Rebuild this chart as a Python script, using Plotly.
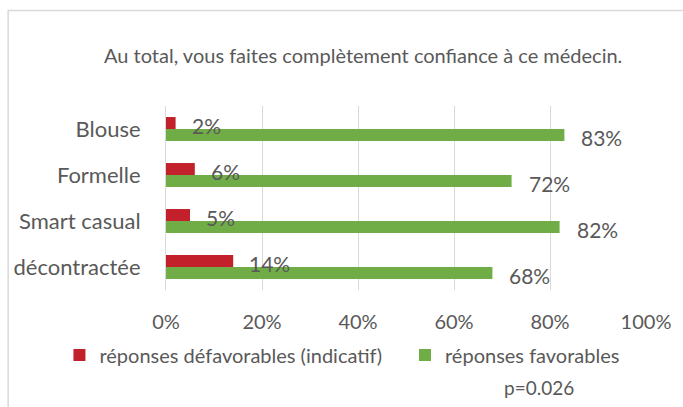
import plotly.graph_objects as go

categories = ["Blouse", "Formelle", "Smart casual", "décontractée"]
defavorables = [2, 6, 5, 14]
favorables = [83, 72, 82, 68]
tick_vals = [0, 20, 40, 60, 80, 100]
tick_text = ["0%", "20%", "40%", "60%", "80%", "100%"]
title_text = "Au total, vous faites complètement confiance à ce médecin."
legend_names = ["réponses défavorables (indicatif)", "réponses favorables"]
p_text = "p=0.026"

RED = "#C2202A"
GREEN = "#70AD47"
TXT = "#595959"
FONT = "Lato, 'Open Sans', sans-serif"

W, H = 683, 407
L, R, T, B = 166, 35, 106, 117
pw, ph = W - L - R, H - T - B


def px_x(x):
    return (x - L) / pw


def px_y(y):
    return (H - B - y) / ph


fig = go.Figure()
fig.add_trace(go.Bar(y=categories, x=defavorables, orientation="h", name=legend_names[0],
                     legend="legend",
                     marker=dict(color=RED, line=dict(width=0))))
fig.add_trace(go.Bar(y=categories, x=favorables, orientation="h", name=legend_names[1],
                     legend="legend2",
                     marker=dict(color=GREEN, line=dict(width=0))))

ann = []
for c, v in zip(categories, defavorables):
    ann.append(dict(x=v, y=c, text=f"{v}%", showarrow=False, xanchor="left", yanchor="middle",
                    xshift=14, yshift=4, font=dict(size=21, color=TXT, family=FONT)))
for c, v in zip(categories, favorables):
    ann.append(dict(x=v, y=c, text=f"{v}%", showarrow=False, xanchor="left", yanchor="middle",
                    xshift=15, yshift=-8, font=dict(size=21, color=TXT, family=FONT)))
ann.append(dict(xref="paper", yref="paper", x=px_x(364), y=px_y(55), text=title_text,
                showarrow=False, xanchor="center", yanchor="middle",
                font=dict(size=20, color=TXT, family=FONT)))
ann.append(dict(xref="paper", yref="paper", x=px_x(541), y=px_y(387), text=p_text,
                showarrow=False, xanchor="center", yanchor="middle",
                font=dict(size=19, color=TXT, family=FONT)))

leg_common = dict(orientation="h", xanchor="left", yanchor="middle", y=px_y(355),
                  font=dict(size=20, color=TXT, family=FONT), bgcolor="rgba(0,0,0,0)",
                  borderwidth=0)

fig.update_layout(
    width=W, height=H,
    margin=dict(l=L, r=R, t=T, b=B),
    paper_bgcolor="white", plot_bgcolor="white",
    barmode="group", bargap=0.48, bargroupgap=0,
    font=dict(family=FONT, color=TXT),
    showlegend=True,
    legend=dict(x=px_x(59), **leg_common),
    legend2=dict(x=px_x(406), **leg_common),
    xaxis=dict(range=[0, 100], tickvals=tick_vals, ticktext=tick_text, showgrid=True,
               gridcolor="#D9D9D9", gridwidth=1, zeroline=False, showline=False,
               ticks="", tickfont=dict(size=20, color=TXT, family=FONT),
               ticklabelstandoff=18, fixedrange=True),
    yaxis=dict(autorange="reversed", showgrid=False, showline=True, linecolor="#D9D9D9",
               linewidth=1, ticks="", tickfont=dict(size=22, color=TXT, family=FONT),
               ticklabelstandoff=20, fixedrange=True),
    annotations=ann,
    shapes=[dict(type="rect", xref="paper", yref="paper", x0=px_x(7.5), x1=px_x(760),
                 y0=px_y(460), y1=px_y(10.5), line=dict(color="#D9D9D9", width=1.5),
                 fillcolor="rgba(0,0,0,0)", layer="below")],
)

fig.write_html("out.html", config={"displayModeBar": False},
               post_script="document.body.style.margin='0';")
